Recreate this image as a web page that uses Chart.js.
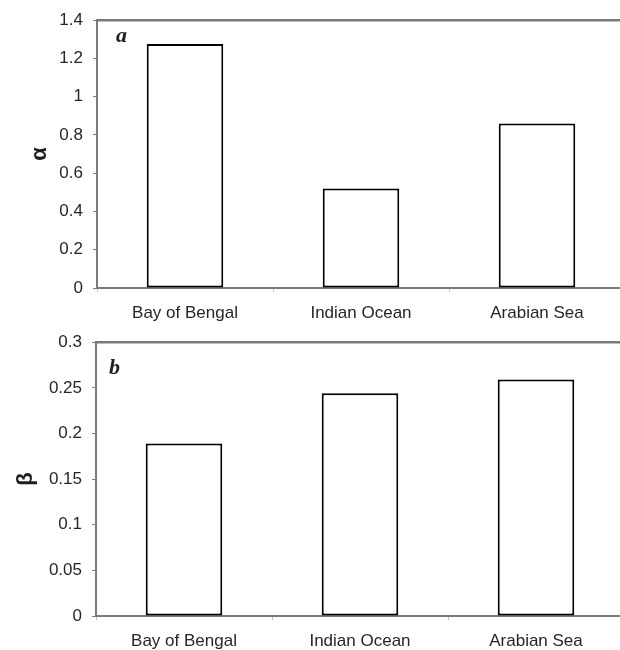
<!DOCTYPE html>
<html>
<head>
<meta charset="utf-8">
<script src="https://cdn.jsdelivr.net/npm/chart.js@4.4.1/dist/chart.umd.min.js"></script>
<style>
  html, body { margin: 0; padding: 0; background: #fff; overflow: hidden; }
  .panel { position: relative; width: 630px; }
  canvas { display: block; }
</style>
</head>
<body>
<div class="panel" style="height:322px"><canvas id="alphaChart"></canvas></div>
<div class="panel" style="height:328px"><canvas id="betaChart"></canvas></div>
<script>
// Regions compared in both panels
const regions = ['Bay of Bengal', 'Indian Ocean', 'Arabian Sea'];

// Panel a: alpha per region
const alphaValues = [1.275, 0.52, 0.86];
const alphaTickValues = [0, 0.2, 0.4, 0.6, 0.8, 1, 1.2, 1.4];
const alphaTickLabels = ['0', '0.2', '0.4', '0.6', '0.8', '1', '1.2', '1.4'];

// Panel b: beta per region
const betaValues = [0.189, 0.244, 0.259];
const betaTickValues = [0, 0.05, 0.1, 0.15, 0.2, 0.25, 0.3];
const betaTickLabels = ['0', '0.05', '0.1', '0.15', '0.2', '0.25', '0.3'];

const AXIS_GREY = '#7a7a7a';
const TEXT = '#262626';
const TICK_FONT = { family: "'Liberation Sans', Arial, sans-serif", size: 17 };

// Top frame line and the italic panel letter
const frameAndLetter = {
  id: 'frameAndLetter',
  afterDraw(chart, args, opts) {
    const { ctx, chartArea } = chart;
    ctx.save();
    ctx.strokeStyle = AXIS_GREY;
    ctx.lineWidth = 2.5;
    ctx.beginPath();
    ctx.moveTo(chartArea.left - 1, chartArea.top);
    ctx.lineTo(chartArea.right, chartArea.top);
    ctx.stroke();
    ctx.fillStyle = '#1e1e1e';
    ctx.font = "bold italic 22px 'Liberation Serif', 'Times New Roman', serif";
    ctx.textBaseline = 'alphabetic';
    ctx.fillText(opts.letter, opts.x, opts.y);
    ctx.restore();
  }
};

function buildChart(canvasId, values, tickValues, tickLabels, opts) {
  return new Chart(document.getElementById(canvasId), {
    type: 'bar',
    data: {
      labels: regions,
      datasets: [{
        data: values,
        backgroundColor: '#ffffff',
        borderColor: '#000000',
        borderWidth: 2,
        borderSkipped: false,
        categoryPercentage: 1,
        barPercentage: 0.435
      }]
    },
    options: {
      responsive: true,
      maintainAspectRatio: false,
      animation: false,
      events: [],
      layout: { padding: { top: opts.top, left: 0, right: opts.right, bottom: 0 } },
      plugins: {
        legend: { display: false },
        tooltip: { enabled: false },
        frameAndLetter: { letter: opts.letter, x: opts.letterX, y: opts.letterY }
      },
      scales: {
        x: {
          afterFit(scale) { scale.height = opts.xHeight; },
          grid: {
            drawOnChartArea: false,
            drawTicks: true,
            tickLength: 4,
            color: '#c4c4c4',
            offset: true
          },
          border: { display: true, color: AXIS_GREY, width: 2 },
          ticks: { color: TEXT, font: TICK_FONT, padding: 11, maxRotation: 0, autoSkip: false }
        },
        y: {
          min: tickValues[0],
          max: tickValues[tickValues.length - 1],
          afterFit(scale) { scale.width = opts.yWidth; },
          afterBuildTicks(scale) { scale.ticks = tickValues.map(v => ({ value: v })); },
          grid: {
            drawOnChartArea: false,
            drawTicks: true,
            tickLength: 4,
            color: AXIS_GREY
          },
          border: { display: true, color: AXIS_GREY, width: 2 },
          ticks: {
            color: TEXT,
            font: TICK_FONT,
            padding: 10,
            callback: (v, i) => tickLabels[i]
          },
          title: {
            display: true,
            text: opts.title,
            color: '#1e1e1e',
            font: { family: "'Liberation Sans', Arial, sans-serif", size: 22, weight: 'bold' },
            padding: { top: opts.titlePad, bottom: 0 }
          }
        }
      }
    },
    plugins: [frameAndLetter]
  });
}

buildChart('alphaChart', alphaValues, alphaTickValues, alphaTickLabels, {
  top: 17, right: 5, xHeight: 34, yWidth: 97,
  title: 'α', titlePad: 27,
  letter: 'a', letterX: 116, letterY: 42
});

buildChart('betaChart', betaValues, betaTickValues, betaTickLabels, {
  top: 20, right: 6, xHeight: 34, yWidth: 96,
  title: 'β', titlePad: 13,
  letter: 'b', letterX: 109, letterY: 52
});
</script>
</body>
</html>
